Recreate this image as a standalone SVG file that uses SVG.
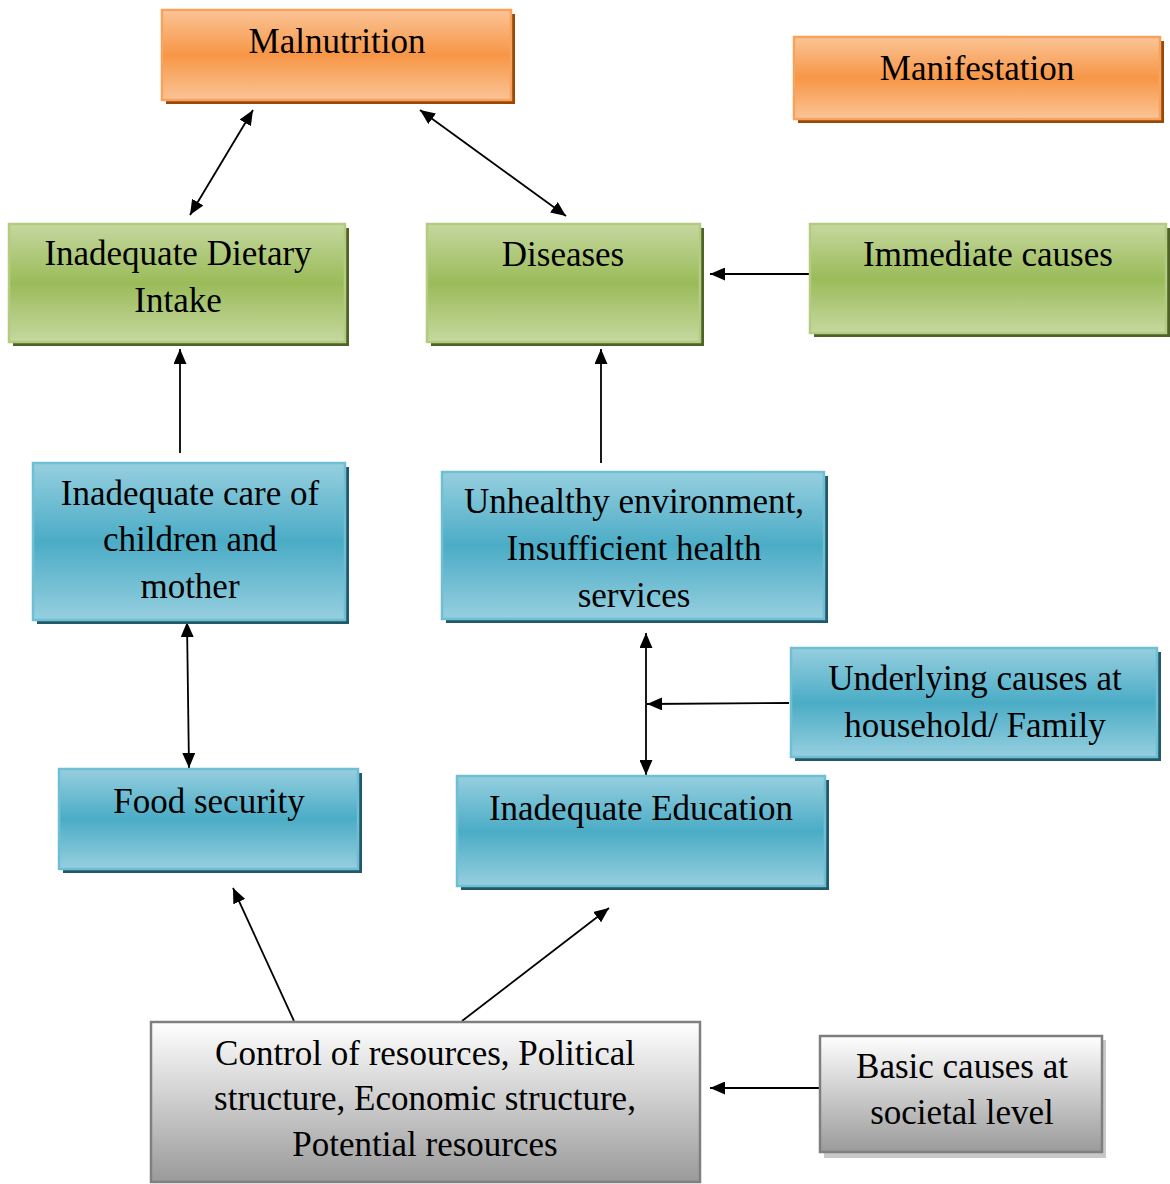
<svg xmlns="http://www.w3.org/2000/svg" width="1170" height="1184" viewBox="0 0 1170 1184">
<defs>
<linearGradient id="gO" x1="0" y1="0" x2="0" y2="1">
<stop offset="0" stop-color="#fbc497"/><stop offset="0.5" stop-color="#f79646"/><stop offset="1" stop-color="#fbc497"/>
</linearGradient>
<linearGradient id="gG" x1="0" y1="0" x2="0" y2="1">
<stop offset="0" stop-color="#c5d89f"/><stop offset="0.5" stop-color="#9bbb59"/><stop offset="1" stop-color="#c5d89f"/>
</linearGradient>
<linearGradient id="gB" x1="0" y1="0" x2="0" y2="1">
<stop offset="0" stop-color="#96cfdf"/><stop offset="0.5" stop-color="#4bacc6"/><stop offset="1" stop-color="#96cfdf"/>
</linearGradient>
<linearGradient id="gW" x1="0" y1="0" x2="0" y2="1">
<stop offset="0" stop-color="#ffffff"/><stop offset="1" stop-color="#9a9a9a"/>
</linearGradient>
<marker id="ah" markerUnits="userSpaceOnUse" markerWidth="15" markerHeight="13" refX="15" refY="6.5" orient="auto-start-reverse">
<path d="M0,0 L15,6.5 L0,13 z" fill="#000"/>
</marker>
</defs>
<style>
.t{font-family:"Liberation Serif","Times New Roman",serif;font-size:35px;fill:#000;text-anchor:middle}
.o{fill:url(#gO);stroke:#f9a25e;stroke-width:2.5}
.os{fill:#984807}
.g{fill:url(#gG);stroke:#b3cc80;stroke-width:2.5}
.gs{fill:#4f6228}
.b{fill:url(#gB);stroke:#6fbfd4;stroke-width:2.5}
.bs{fill:#215968}
.w{fill:url(#gW);stroke:#7f7f7f;stroke-width:2.5}
.ws{fill:#c8c8c8}
.c{stroke:#000;stroke-width:1.8;fill:none}
</style>
<g id="connectors">
<line class="c" x1="253" y1="110" x2="190" y2="215" marker-start="url(#ah)" marker-end="url(#ah)"/>
<line class="c" x1="420" y1="110" x2="566" y2="216" marker-start="url(#ah)" marker-end="url(#ah)"/>
<line class="c" x1="811" y1="274" x2="710" y2="274" marker-end="url(#ah)"/>
<line class="c" x1="180" y1="453" x2="180" y2="349" marker-end="url(#ah)"/>
<line class="c" x1="601" y1="463" x2="601" y2="349" marker-end="url(#ah)"/>
<line class="c" x1="187" y1="622" x2="189" y2="768" marker-start="url(#ah)" marker-end="url(#ah)"/>
<line class="c" x1="646" y1="633" x2="646" y2="775" marker-start="url(#ah)" marker-end="url(#ah)"/>
<line class="c" x1="789" y1="703" x2="647" y2="704" marker-end="url(#ah)"/>
<line class="c" x1="294" y1="1021" x2="233" y2="888" marker-end="url(#ah)"/>
<line class="c" x1="462" y1="1021" x2="609" y2="908" marker-end="url(#ah)"/>
<line class="c" x1="821" y1="1088" x2="710" y2="1088" marker-end="url(#ah)"/>
</g>
<g id="malnutrition">
<rect class="os" x="166" y="14" width="349" height="90"/>
<rect class="o" x="162" y="10" width="349" height="90"/>
<text class="t" x="337" y="53">Malnutrition</text>
</g>
<g id="manifestation">
<rect class="os" x="798" y="41" width="366" height="82"/>
<rect class="o" x="794" y="37" width="366" height="82"/>
<text class="t" x="977" y="80">Manifestation</text>
</g>
<g id="dietary">
<rect class="gs" x="13" y="228" width="336" height="118"/>
<rect class="g" x="9" y="224" width="336" height="118"/>
<text class="t" x="178" y="265">Inadequate Dietary</text>
<text class="t" x="178" y="312">Intake</text>
</g>
<g id="diseases">
<rect class="gs" x="431" y="228" width="273" height="118"/>
<rect class="g" x="427" y="224" width="273" height="118"/>
<text class="t" x="563" y="266">Diseases</text>
</g>
<g id="immediate">
<rect class="gs" x="814" y="228" width="356" height="109"/>
<rect class="g" x="810" y="224" width="356" height="109"/>
<text class="t" x="988" y="266">Immediate causes</text>
</g>
<g id="care">
<rect class="bs" x="37" y="467" width="312" height="157"/>
<rect class="b" x="33" y="463" width="312" height="157"/>
<text class="t" x="190" y="505">Inadequate care of</text>
<text class="t" x="190" y="551">children and</text>
<text class="t" x="190" y="598">mother</text>
</g>
<g id="unhealthy">
<rect class="bs" x="446" y="476" width="382" height="147"/>
<rect class="b" x="442" y="472" width="382" height="147"/>
<text class="t" x="634" y="513">Unhealthy environment,</text>
<text class="t" x="634" y="560">Insufficient health</text>
<text class="t" x="634" y="607">services</text>
</g>
<g id="underlying">
<rect class="bs" x="795" y="652" width="366" height="109"/>
<rect class="b" x="791" y="648" width="366" height="109"/>
<text class="t" x="975" y="690">Underlying causes at</text>
<text class="t" x="975" y="737">household/ Family</text>
</g>
<g id="food">
<rect class="bs" x="63" y="773" width="299" height="100"/>
<rect class="b" x="59" y="769" width="299" height="100"/>
<text class="t" x="209" y="813">Food security</text>
</g>
<g id="education">
<rect class="bs" x="461" y="780" width="368" height="110"/>
<rect class="b" x="457" y="776" width="368" height="110"/>
<text class="t" x="641" y="820">Inadequate Education</text>
</g>
<g id="control">
<rect class="w" x="151" y="1022" width="549" height="160"/>
<text class="t" x="425" y="1065">Control of resources, Political</text>
<text class="t" x="425" y="1110">structure, Economic structure,</text>
<text class="t" x="425" y="1156">Potential resources</text>
</g>
<g id="basic">
<rect class="ws" x="824" y="1040" width="282" height="118"/>
<rect class="w" x="820" y="1036" width="282" height="116"/>
<text class="t" x="962" y="1078">Basic causes at</text>
<text class="t" x="962" y="1124">societal level</text>
</g>
</svg>
